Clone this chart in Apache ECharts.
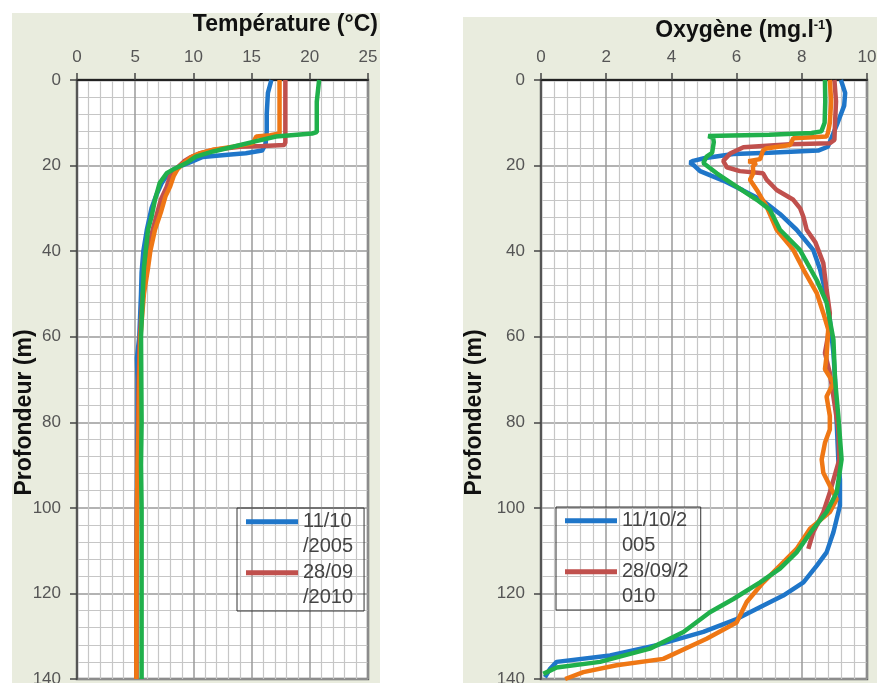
<!DOCTYPE html>
<html>
<head>
<meta charset="utf-8">
<script src="https://cdn.jsdelivr.net/npm/echarts@6/dist/echarts.min.js"></script>
<style>
  html, body { margin: 0; padding: 0; background: #fff; }
  #chart { width: 877px; height: 683px; }
</style>
</head>
<body>
<div id="chart"></div>
<script>
// noms des profils (seuls les deux premiers sont dans la légende)
const seriesNames = ['11/10/2005', '28/09/2010', 'Série 3', 'Série 4'];
const seriesColors = ['#1f76c9', '#c0504d', '#ef7714', '#20b04b'];

// température (°C) en fonction de la profondeur (m)
const tempDepthBlue = [0, 3, 8, 12, 15, 16.5, 17.1, 17.4, 18, 19, 20, 21, 22, 24, 27, 30, 35, 40, 45, 50, 60, 65, 70, 80, 100, 120, 140];
const tempBlue = [16.7, 16.4, 16.3, 16.3, 16.2, 15.9, 14.5, 13.2, 10.8, 9.9, 9.0, 8.3, 7.8, 7.3, 6.8, 6.4, 6.0, 5.7, 5.55, 5.5, 5.35, 5.15, 5.2, 5.2, 5.15, 5.1, 5.1];

const tempDepthRed = [0, 5, 10, 14.6, 15.2, 15.4, 15.6, 16.3, 17.1, 18, 19, 20, 21, 22.5, 25, 28, 31, 35, 40, 45, 50, 60, 70, 80, 100, 120, 140];
const tempRed = [17.9, 17.9, 17.9, 17.9, 17.8, 16.0, 14.0, 11.8, 10.6, 9.8, 9.2, 8.8, 8.4, 8.0, 7.7, 7.2, 6.9, 6.5, 6.1, 5.9, 5.65, 5.4, 5.3, 5.25, 5.15, 5.1, 5.1];

const tempDepthOrange = [0, 5, 12.5, 12.9, 13.2, 14.8, 15.6, 16.3, 17.1, 17.9, 18.7, 19.8, 21, 22.5, 24.9, 27.2, 31, 35, 40, 44, 50, 55, 60, 70, 80, 90, 100, 120, 140];
const tempOrange = [17.4, 17.4, 17.4, 16.6, 15.4, 15.1, 13.4, 11.7, 10.6, 9.9, 9.5, 9.0, 8.6, 8.3, 8.0, 7.6, 7.2, 6.7, 6.3, 6.1, 5.75, 5.6, 5.45, 5.35, 5.3, 5.2, 5.15, 5.1, 5.1];

const tempDepthGreen = [0, 5, 12.2, 12.5, 13.2, 14.3, 15.6, 16.7, 17.9, 19.4, 21, 21.8, 24.1, 28, 32, 35, 40, 44, 50, 60, 80, 90, 100, 120, 140];
const tempGreen = [20.8, 20.6, 20.6, 20.2, 17.1, 15.4, 13.4, 11.7, 10.2, 9.4, 8.2, 7.7, 7.1, 6.7, 6.4, 6.1, 5.9, 5.75, 5.65, 5.5, 5.55, 5.5, 5.55, 5.55, 5.55];

// oxygène (mg/l) en fonction de la profondeur (m)
const oxyDepthBlue = [0, 3, 6, 10, 12.4, 15.6, 16.5, 17, 17.3, 18.3, 18.9, 19.3, 20, 21.3, 23.5, 25.8, 28.2, 31.3, 35, 39.7, 44.3, 50.6, 56, 63.8, 70, 80, 88.7, 93.4, 99.5, 102.6, 105.7, 110.4, 113.5, 117.4, 120.5, 122.8, 126, 129, 132.1, 134.5, 136, 137.6, 139.6];
const oxyBlue = [9.2, 9.33, 9.3, 9.1, 8.97, 8.8, 8.5, 7.0, 5.9, 5.0, 4.67, 4.57, 4.7, 4.88, 5.59, 6.2, 6.81, 7.33, 7.84, 8.35, 8.56, 8.76, 8.86, 8.97, 9.02, 9.07, 9.12, 9.17, 9.17, 9.07, 8.97, 8.76, 8.46, 8.05, 7.43, 6.82, 6.0, 4.98, 3.55, 2.12, 0.48, 0.28, 0.12];

const oxyDepthRed = [0, 5, 10, 14, 14.8, 15.0, 15.7, 17.2, 18.9, 20.4, 21.3, 21.8, 23.3, 25.7, 28, 30, 32, 35, 38, 42.8, 49, 54.5, 60, 63.8, 68.5, 74, 81.7, 88.7, 96.4, 101, 105.7, 109.6];
const oxyRed = [9.0, 9.05, 9.02, 9.0, 8.86, 7.64, 6.21, 5.8, 5.59, 5.7, 6.1, 6.81, 6.92, 7.23, 7.74, 7.95, 8.05, 8.15, 8.42, 8.66, 8.76, 8.86, 8.8, 8.71, 8.86, 8.97, 9.12, 9.15, 8.86, 8.66, 8.35, 8.2];

const oxyDepthOrange = [0, 5, 10, 12.4, 13.2, 13.6, 15.2, 16.0, 16.5, 18.5, 19.0, 19.4, 20.2, 21.8, 23.3, 25.7, 29.6, 35, 39.7, 44.3, 49.8, 54.5, 58.3, 64.5, 67.6, 70.8, 74, 78.5, 81.7, 84.8, 88.7, 91.8, 98, 101, 104.9, 109.6, 113.5, 117.4, 122, 126.8, 130.6, 135.3, 136.8, 138.4, 140];
const oxyOrange = [8.86, 8.9, 8.86, 8.8, 8.76, 7.74, 7.64, 6.9, 6.81, 6.72, 6.36, 6.6, 6.5, 6.51, 6.41, 6.62, 6.92, 7.23, 7.74, 8.05, 8.46, 8.66, 8.81, 8.76, 8.71, 8.97, 8.76, 8.86, 8.86, 8.71, 8.61, 8.66, 9.07, 8.86, 8.25, 7.84, 7.33, 6.82, 6.31, 6.0, 5.08, 3.75, 2.32, 1.3, 0.74];

const oxyDepthGreen = [0, 5, 10, 12.0, 12.4, 12.8, 13.1, 13.5, 14.5, 17, 17.9, 19.4, 21.8, 24.9, 28, 30.3, 35, 39.7, 46.8, 52, 60.7, 70, 78.5, 88.7, 96.4, 101, 104.9, 110.4, 114.2, 117.4, 121.3, 124.4, 129, 132.9, 136, 137.3, 138.8];
const oxyGreen = [8.71, 8.72, 8.7, 8.6, 8.3, 7.0, 5.13, 5.28, 5.3, 5.25, 5.08, 4.98, 5.39, 6.0, 6.62, 7.02, 7.33, 7.94, 8.46, 8.76, 8.97, 9.02, 9.12, 9.22, 9.07, 8.76, 8.35, 7.84, 7.33, 6.72, 5.9, 5.18, 4.37, 3.34, 1.81, 0.48, 0.07];

const depthTicks = { min: 0, max: 140, interval: 20 };
const tempTicks = { min: 0, max: 25, interval: 5 };
const oxyTicks = { min: 0, max: 10, interval: 2 };

const FONT = 'Liberation Sans, Arial, sans-serif';

const tempProfiles = [[tempDepthBlue, tempBlue], [tempDepthRed, tempRed], [tempDepthOrange, tempOrange], [tempDepthGreen, tempGreen]];
const oxyProfiles = [[oxyDepthBlue, oxyBlue], [oxyDepthRed, oxyRed], [oxyDepthOrange, oxyOrange], [oxyDepthGreen, oxyGreen]];

function profileSeries(profiles, axisIndex) {
  return profiles.map(function (p, i) {
    return {
      name: seriesNames[i],
      type: 'line',
      xAxisIndex: axisIndex,
      yAxisIndex: axisIndex,
      showSymbol: false,
      symbol: 'none',
      color: seriesColors[i],
      lineStyle: { width: 4.5, color: seriesColors[i] },
      data: p[0].map(function (d, k) { return [p[1][k], d]; })
    };
  });
}

function valueAxis(ticks, extra) {
  return Object.assign({
    type: 'value',
    min: ticks.min,
    max: ticks.max,
    interval: ticks.interval,
    axisLine: { show: true, lineStyle: { color: '#222', width: 2 } },
    axisTick: { show: true, length: 7, lineStyle: { color: '#444', width: 1.5 } },
    axisLabel: { color: '#555', fontSize: 17, fontFamily: FONT },
    splitLine: { show: true, lineStyle: { color: '#9a9a9a', width: 1.5 } },
    minorTick: { show: false, splitNumber: 5 },
    minorSplitLine: { show: true, lineStyle: { color: '#c6c6c6', width: 1.2 } }
  }, extra);
}

function depthAxis(gridIndex, gap) {
  return valueAxis(depthTicks, {
    gridIndex: gridIndex,
    inverse: true,
    axisLine: { show: true, lineStyle: { color: '#555', width: 2 } },
    axisLabel: { color: '#555', fontSize: 17, fontFamily: FONT, margin: 16 },
    name: 'Profondeur (m)',
    nameLocation: 'middle',
    nameRotate: 90,
    nameGap: gap,
    nameMoveOverlap: false,
    nameTextStyle: { fontSize: 23, fontWeight: 'bold', color: '#111', fontFamily: FONT, padding: [0, 66, 0, 0] }
  });
}

const legendIcon = 'path://M0,0H53V5H0Z M0,29.99H0.01V30H0Z';

function legendBox(left, top, padRight, cut) {
  return {
    orient: 'vertical',
    left: left,
    top: top,
    padding: [1, padRight, 1, 9],
    itemGap: 1,
    itemWidth: 52,
    itemHeight: 30,
    icon: legendIcon,
    borderColor: '#333',
    borderWidth: 1,
    selectedMode: false,
    data: seriesNames.slice(0, 2),
    formatter: function (name) { return name.slice(0, cut) + '\n' + name.slice(cut); },
    textStyle: { fontSize: 20, color: '#444', lineHeight: 25, fontFamily: FONT }
  };
}

const chart = echarts.init(document.getElementById('chart'));
chart.setOption({
  animation: false,
  backgroundColor: '#fff',
  graphic: [
    { type: 'rect', z: -10, shape: { x: 12, y: 13, width: 368, height: 670 }, style: { fill: '#e9ecde' } },
    { type: 'rect', z: -10, shape: { x: 463, y: 17, width: 414, height: 666 }, style: { fill: '#e9ecde' } }
  ],
  title: [
    {
      text: 'Température (°C)', right: 499, top: 13, padding: 0,
      textStyle: { fontSize: 23, fontWeight: 'bold', color: '#111', fontFamily: FONT }
    },
    {
      text: 'Oxygène (mg.l{sup|-1})', right: 44, top: 19, padding: 0,
      textStyle: {
        fontSize: 23, fontWeight: 'bold', color: '#111', fontFamily: FONT,
        rich: { sup: { fontSize: 13, fontWeight: 'bold', color: '#111', verticalAlign: 'top', fontFamily: FONT } }
      }
    }
  ],
  grid: [
    { left: 77, top: 80, width: 291, height: 599, outerBoundsMode: 'none', show: true, backgroundColor: '#fff', borderColor: '#666', borderWidth: 2.5 },
    { left: 541, top: 80, width: 326, height: 599, outerBoundsMode: 'none', show: true, backgroundColor: '#fff', borderColor: '#666', borderWidth: 2.5 }
  ],
  xAxis: [
    valueAxis(tempTicks, { gridIndex: 0, position: 'top', axisLabel: { color: '#555', fontSize: 17, fontFamily: FONT, margin: 14 } }),
    valueAxis(oxyTicks, { gridIndex: 1, position: 'top', axisLabel: { color: '#555', fontSize: 17, fontFamily: FONT, margin: 14 } })
  ],
  yAxis: [
    depthAxis(0, 41),
    depthAxis(1, 55)
  ],
  legend: [
    legendBox(237, 508, 11, 5),
    legendBox(556, 507, 12, 7)
  ],
  series: profileSeries(tempProfiles, 0).concat(profileSeries(oxyProfiles, 1))
});
</script>
</body>
</html>
